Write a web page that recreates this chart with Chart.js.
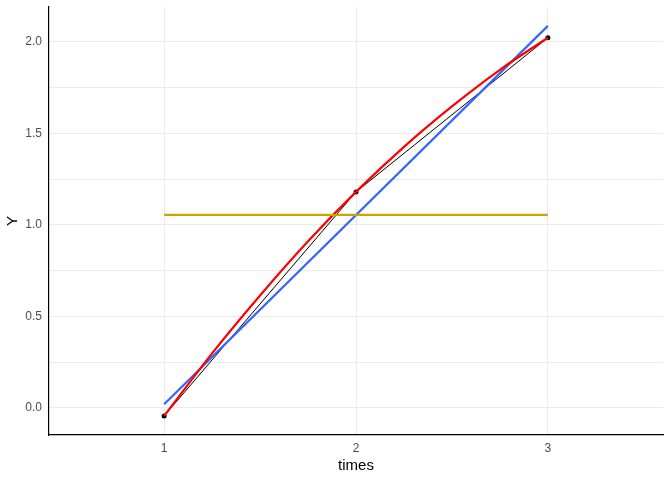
<!DOCTYPE html>
<html>
<head>
<meta charset="utf-8">
<script src="https://cdn.jsdelivr.net/npm/chart.js@4"></script>
<style>
  html, body { margin: 0; padding: 0; background: #fff; }
  #wrap { width: 672px; height: 480px; }
</style>
</head>
<body>
<div id="wrap"><canvas id="chart" width="672" height="480"></canvas></div>
<script>
// ==================== Data ====================
const times = [1, 2, 3];
const observed = [-0.044, 1.18, 2.022];

// linear fit (blue), read at its end points
const fitX = [1, 3];
const fitY = [0.02, 2.087];

// mean line (gold)
const meanX = [1, 3];
const meanY = [1.055, 1.055];

// smooth curve (red)
const smoothX = [1, 1.25, 1.5, 1.75, 2, 2.25, 2.5, 2.75, 3];
const smoothY = [-0.044, 0.298, 0.614, 0.91, 1.18, 1.426, 1.647, 1.847, 2.022];

const xTicks = [1, 2, 3];
const yTicks = [0, 0.25, 0.5, 0.75, 1, 1.25, 1.5, 1.75, 2];

// ==================== Helpers ====================
function pairs(xs, ys) {
    return xs.map((x, i) => ({ x: x, y: ys[i] }));
}

const fontFamily = "'Liberation Sans', Arial, sans-serif";
const tickColor = '#4D4D4D';

// ==================== Chart ====================
const ctx = document.getElementById('chart').getContext('2d');
const chart = new Chart(ctx, {
    type: 'line',
    data: {
        datasets: [{
            label: 'observed',
            data: pairs(times, observed),
            borderColor: '#000',
            borderWidth: 1,
            pointRadius: 2.5,
            pointBackgroundColor: '#000',
            pointBorderWidth: 0,
            order: 4
        }, {
            label: 'linear',
            data: pairs(fitX, fitY),
            borderColor: '#3366FF',
            borderWidth: 2.2,
            pointRadius: 0,
            order: 3
        }, {
            label: 'smooth',
            data: pairs(smoothX, smoothY),
            borderColor: '#FF0000',
            borderWidth: 2.2,
            pointRadius: 0,
            tension: 0.4,
            cubicInterpolationMode: 'monotone',
            order: 2
        }, {
            label: 'mean',
            data: pairs(meanX, meanY),
            borderColor: '#CCA300',
            borderWidth: 2.2,
            pointRadius: 0,
            order: 1
        }]
    },
    options: {
        responsive: false,
        animation: false,
        layout: { padding: { left: 4, top: 7, right: 9, bottom: 5 } },
        plugins: {
            legend: { display: false },
            tooltip: { enabled: false }
        },
        scales: {
            x: {
                type: 'linear',
                min: 0.4,
                max: 3.6,
                afterBuildTicks: (axis) => { axis.ticks = xTicks.map(v => ({ value: v })); },
                afterFit: (axis) => {
                    axis.height = 40;
                    axis.paddingLeft = 0;
                    axis.paddingRight = 0;
                },
                grid: { color: '#EBEBEB', lineWidth: 1, drawTicks: false },
                border: { display: true, color: '#000', width: 1.2 },
                ticks: {
                    color: tickColor,
                    padding: 6,
                    font: { family: fontFamily, size: 12 },
                    callback: (v) => String(v)
                },
                title: {
                    display: true,
                    text: 'times',
                    color: '#000',
                    padding: { top: 0, bottom: 0 },
                    font: { family: fontFamily, size: 15 }
                }
            },
            y: {
                type: 'linear',
                min: -0.148,
                max: 2.19,
                afterBuildTicks: (axis) => { axis.ticks = yTicks.map(v => ({ value: v })); },
                afterFit: (axis) => {
                    axis.width = 45;
                    axis.paddingTop = 0;
                    axis.paddingBottom = 0;
                },
                grid: { color: '#EBEBEB', lineWidth: 1, drawTicks: false },
                border: { display: true, color: '#000', width: 1.2 },
                ticks: {
                    color: tickColor,
                    padding: 7,
                    font: { family: fontFamily, size: 12 },
                    callback: (v) => (Math.abs(v * 2 - Math.round(v * 2)) < 1e-6 ? v.toFixed(1) : '')
                },
                title: {
                    display: true,
                    text: 'Y',
                    color: '#000',
                    padding: { top: 0, bottom: 0 },
                    font: { family: fontFamily, size: 15 }
                }
            }
        }
    }
});
</script>
</body>
</html>
